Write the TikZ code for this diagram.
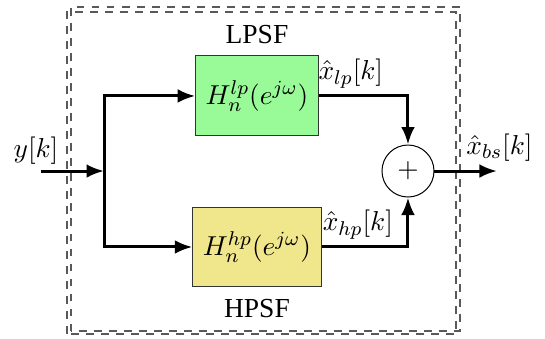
\documentclass[tikz,border=0pt]{standalone}
\usepackage{fontspec}
\setmainfont{Liberation Serif}
\usetikzlibrary{positioning,arrows.meta}
\definecolor{lpgreen}{RGB}{152,251,152}
\definecolor{hpyellow}{RGB}{240,230,140}
\begin{document}
\begin{tikzpicture}[font=\fontsize{11}{13}\selectfont,
    block/.style = {draw=black!80, minimum height=1.124cm, inner xsep=4pt},
    sum/.style = {draw, circle, minimum size=0.731cm, inner sep=0pt},
    sig/.style = {line width=1.2pt, -{Latex[length=7pt,width=5.5pt]}},
    lab/.style = {inner ysep=2.5pt},
    frame/.style = {draw=black!65, line width=0.55pt, dashed}]
    \useasboundingbox (0,0) rectangle (7.661,4.765);
    \draw[frame] (0.942,0.070) rectangle (6.410,4.596);
    \draw[frame] (0.998,0.112) rectangle (6.466,4.667);
    \node[block, fill=lpgreen] (lp) at (3.612,3.416) {$H_n^{lp}(e^{j\omega})$};
    \node[block, fill=hpyellow] (hp) at (3.612,1.293) {$H_n^{hp}(e^{j\omega})$};
    \node[sum] (sum) at (5.735,2.361) {$+$};
    \node (lpsf) [above=1pt of lp] {LPSF};
    \node (hpsf) [below=1pt of hp] {HPSF};
    \coordinate (in) at (0.576,2.361);
    \coordinate (split) at (1.462,2.361);
    \coordinate (out) at (6.986,2.361);
    \node[lab] (ylab) [above=0pt of in, xshift=-2pt] {$y[k]$};
    \draw[sig] (in) -- (split);
    \draw[sig] (split) |- (lp.west);
    \draw[sig] (split) |- (hp.west);
    \draw[sig] (lp.east) -| node[lab, pos=0.18, above] {$\hat{x}_{lp}[k]$} (sum.north);
    \draw[sig] (hp.east) -| node[lab, pos=0.21, above] {$\hat{x}_{hp}[k]$} (sum.south);
    \draw[sig] (sum.east) -- (out) node[above, xshift=1pt] {$\hat{x}_{bs}[k]$};
\end{tikzpicture}
\end{document}
